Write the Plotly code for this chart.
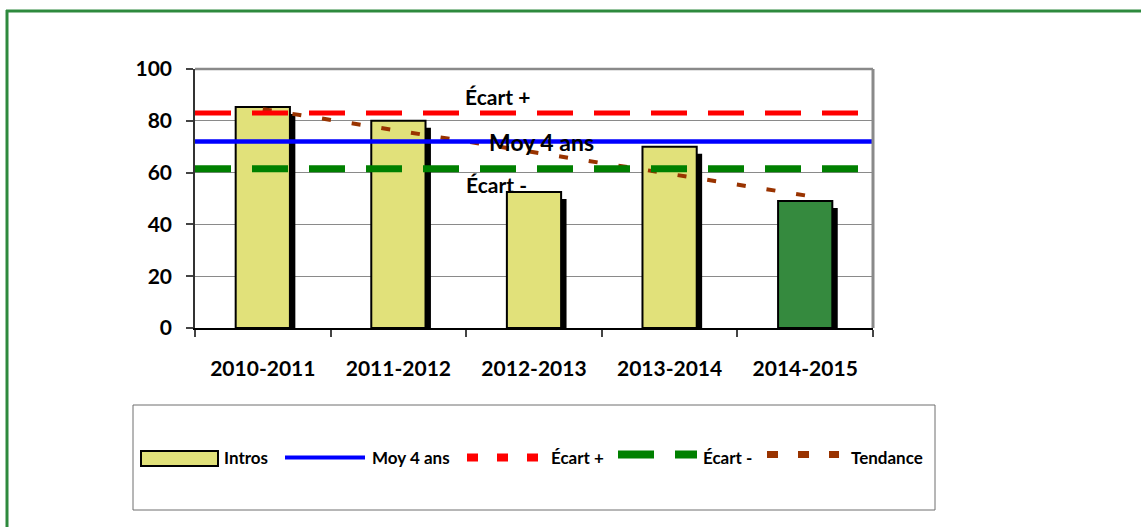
import plotly.graph_objects as go

# data
seasons = ["2010-2011", "2011-2012", "2012-2013", "2013-2014", "2014-2015"]
intros = [85.3, 80, 52.5, 70, 49]
bar_colors = ["#e1e17a", "#e1e17a", "#e1e17a", "#e1e17a", "#358a3e"]
moy_4_ans = 72
ecart_plus = 83
ecart_minus = 61.5
trend_x = ["2010-2011", "2014-2015"]
trend_y = [84.5, 51.2]

FIG_W, FIG_H = 1141, 527
L, T, R, B = 195, 69, 873, 328   # plot area in pixels
FONT = "Lato"

def xp(px):
    return (px - L) / (R - L)

def yp(py):
    return (B - py) / (B - T)

fig = go.Figure()

# black 3d-ish shadow behind each bar
fig.add_trace(go.Bar(
    x=seasons, y=[v - 2.7 for v in intros],
    width=0.4, offset=-0.16,
    marker=dict(color="black", line=dict(width=0)),
    hoverinfo="skip", showlegend=False
))
fig.add_trace(go.Bar(
    x=seasons, y=intros, name="Intros",
    width=0.4, offset=-0.2,
    marker=dict(color=bar_colors, line=dict(color="black", width=2)),
    showlegend=False
))
fig.add_trace(go.Scatter(
    x=trend_x, y=trend_y, mode="lines", name="Tendance",
    line=dict(color="#993300", width=4, dash="9px,21px"),
    showlegend=False
))

shapes = []
# reference lines
shapes.append(dict(type="line", xref="paper", yref="y", x0=0, x1=1, y0=ecart_plus, y1=ecart_plus,
                   line=dict(color="#ff0000", width=5, dash="36px,21px")))
shapes.append(dict(type="line", xref="paper", yref="y", x0=0, x1=1, y0=ecart_minus, y1=ecart_minus,
                   line=dict(color="#008000", width=7, dash="36px,21px")))
shapes.append(dict(type="line", xref="paper", yref="y", x0=0, x1=1, y0=moy_4_ans, y1=moy_4_ans,
                   line=dict(color="#0000ff", width=4.5)))
# plot frame (gray top/right)
shapes.append(dict(type="line", xref="paper", yref="paper", x0=0, x1=1, y0=1, y1=1,
                   line=dict(color="#8a8a8a", width=2.5)))
shapes.append(dict(type="line", xref="paper", yref="paper", x0=1, x1=1, y0=0, y1=1,
                   line=dict(color="#8a8a8a", width=3)))
# outer green border (top and left only, the rest is cut off)
shapes.append(dict(type="line", xref="paper", yref="paper", x0=xp(6), x1=xp(FIG_W), y0=yp(11), y1=yp(11),
                   line=dict(color="#2e8a3e", width=3)))
shapes.append(dict(type="line", xref="paper", yref="paper", x0=xp(7), x1=xp(7), y0=yp(10), y1=yp(FIG_H),
                   line=dict(color="#2e8a3e", width=3)))

# legend box drawn by hand
ly = 457.5
shapes.append(dict(type="rect", xref="paper", yref="paper", x0=xp(133), x1=xp(935), y0=yp(405), y1=yp(510),
                   line=dict(color="#6e6e6e", width=1), fillcolor="white", layer="below"))
shapes.append(dict(type="rect", xref="paper", yref="paper", x0=xp(141), x1=xp(218), y0=yp(451), y1=yp(466),
                   line=dict(color="black", width=2), fillcolor="#e1e17a"))
shapes.append(dict(type="line", xref="paper", yref="paper", x0=xp(285), x1=xp(365), y0=yp(ly), y1=yp(ly),
                   line=dict(color="#0000ff", width=4)))
shapes.append(dict(type="line", xref="paper", yref="paper", x0=xp(467), x1=xp(538), y0=yp(ly), y1=yp(ly),
                   line=dict(color="#ff0000", width=8, dash="11px,19px")))
shapes.append(dict(type="line", xref="paper", yref="paper", x0=xp(618), x1=xp(697), y0=yp(ly - 3), y1=yp(ly - 3),
                   line=dict(color="#008000", width=8, dash="36px,21px")))
shapes.append(dict(type="line", xref="paper", yref="paper", x0=xp(767), x1=xp(839), y0=yp(ly - 3), y1=yp(ly - 3),
                   line=dict(color="#993300", width=7, dash="11px,20px")))

annotations = []
legend_items = [("Intros", 222), ("Moy 4 ans", 370), ("Écart +", 549), ("Écart -", 701), ("Tendance", 849)]
for txt, x0 in legend_items:
    annotations.append(dict(text=txt, xref="paper", yref="paper", x=xp(x0), y=yp(ly),
                            xanchor="left", yanchor="middle", showarrow=False,
                            font=dict(family=FONT, size=17, color="black", weight="bold")))

# labels on the reference lines
for txt, cx, cy, size in [("Écart +", 497, 96, 21), ("Moy 4 ans", 541, 142, 23), ("Écart -", 496, 184, 21)]:
    annotations.append(dict(text=txt, xref="paper", yref="paper", x=xp(cx), y=yp(cy),
                            xanchor="center", yanchor="middle", showarrow=False,
                            font=dict(family=FONT, size=size, color="black", weight="bold")))

fig.update_layout(
    width=FIG_W, height=FIG_H, autosize=False,
    margin=dict(l=L, r=FIG_W - R, t=T, b=FIG_H - B, pad=0),
    paper_bgcolor="white", plot_bgcolor="white",
    barmode="overlay", showlegend=False,
    font=dict(family=FONT, color="black"),
    shapes=shapes, annotations=annotations,
    xaxis=dict(
        type="category", range=[-0.5, 4.5], tickson="boundaries",
        ticks="outside", ticklen=7, tickcolor="#444", tickwidth=1.5,
        showline=True, linecolor="black", linewidth=1.5,
        showgrid=False, ticklabelstandoff=21,
        tickfont=dict(family=FONT, size=21, color="black", weight="bold"),
    ),
    yaxis=dict(
        range=[0, 100], dtick=20, ticks="outside", ticklen=7, tickcolor="#444", tickwidth=1.5,
        showline=True, linecolor="#333", linewidth=1.5,
        showgrid=True, gridcolor="#8a8a8a", gridwidth=1, zeroline=False,
        ticklabelstandoff=10,
        tickfont=dict(family=FONT, size=21, color="black", weight="bold"),
    ),
)

# drop the default page margin so the figure sits at the window corner
fig.write_html("out.html", config={"displayModeBar": False},
               post_script="document.body.style.margin = '0';")
